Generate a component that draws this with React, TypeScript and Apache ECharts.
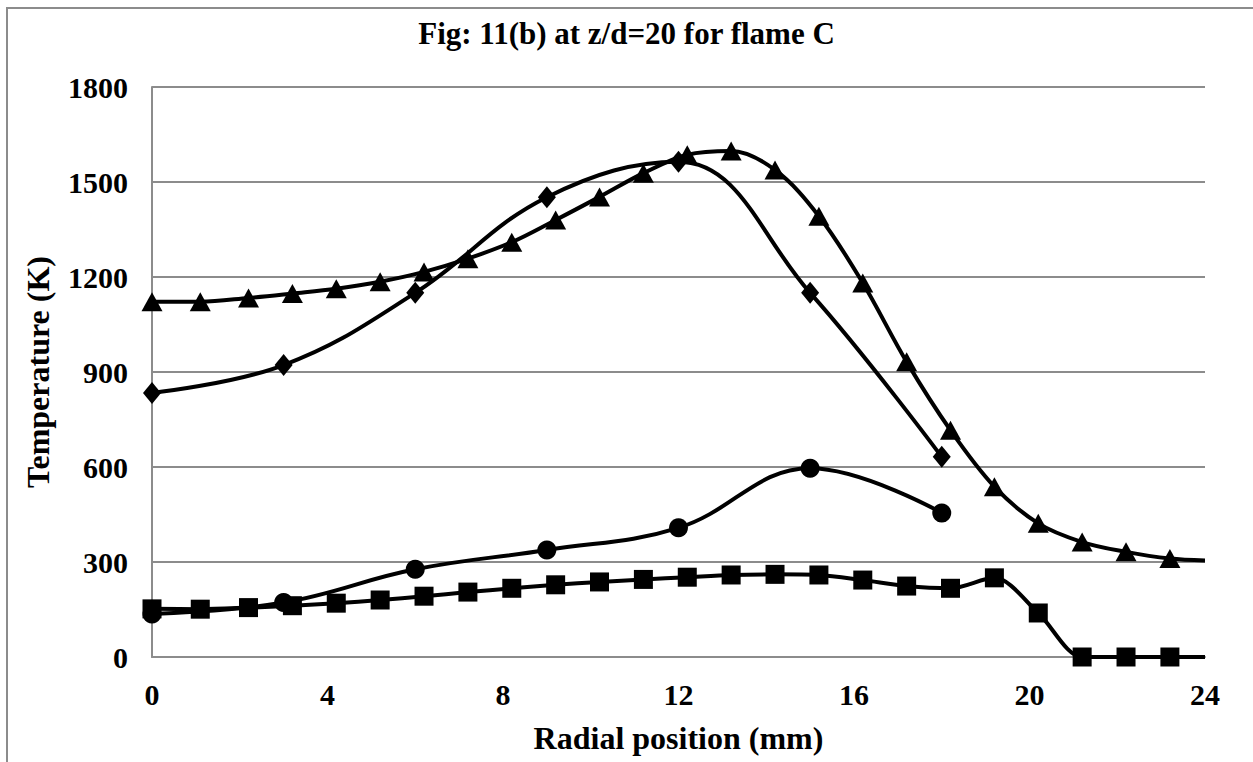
import React, { useEffect, useRef } from "react";
import * as echarts from "echarts";

const titleText = "Fig: 11(b) at z/d=20 for flame C";
const xAxisName = "Radial position (mm)";
const yAxisName = "Temperature (K)";

// Series with 3 mm spacing
const coarseX = [0, 3, 6, 9, 12, 15, 18];
const diamondY = [834, 922, 1150, 1452, 1564, 1150, 632];
const circleY = [136, 172, 277, 338, 408, 596, 455];

// Series with ~1 mm spacing
const fineX = [0, 1.1, 2.2, 3.2, 4.2, 5.2, 6.2, 7.2, 8.2, 9.2, 10.2, 11.2, 12.2, 13.2, 14.2, 15.2, 16.2, 17.2, 18.2, 19.2, 20.2, 21.2, 22.2, 23.2, 24];
const triangleY = [1122, 1122, 1134, 1148, 1163, 1185, 1216, 1258, 1310, 1380, 1453, 1528, 1586, 1598, 1538, 1392, 1181, 932, 716, 538, 422, 363, 332, 311, 305];
const squareY = [152, 151, 156, 162, 170, 180, 192, 205, 217, 228, 237, 245, 252, 259, 261, 259, 243, 224, 217, 250, 139, 0, 0, 0, 0];
// last fine point (x=24) is the end of the drawn line, without a marker
const fineMarkerShown = fineX.map((x) => x < 24);

const font = "'Liberation Serif', 'Times New Roman', serif";

export default function App() {
  const ref = useRef<HTMLDivElement>(null);
  useEffect(() => {
    if (!ref.current) return;
    const chart = echarts.init(ref.current, null, { renderer: "svg" });
    const mk = (xs: number[], ys: number[], shown?: boolean[]) =>
      xs.map((x, i) =>
        shown && !shown[i] ? { value: [x, ys[i]], symbol: "none" } : { value: [x, ys[i]] }
      );
    const lineStyle = { color: "#000", width: 4 };
    const itemStyle = { color: "#000" };
    chart.setOption({
      animation: false,
      backgroundColor: "#fff",
      title: {
        text: titleText,
        left: "center",
        top: 13,
        textStyle: { fontFamily: font, fontWeight: "bold", fontSize: 31, color: "#000" },
      },
      graphic: [
        {
          type: "rect",
          shape: { x: 7, y: 8, width: 1400, height: 900 },
          style: { fill: "none", stroke: "#8c8c8c", lineWidth: 2 },
          silent: true,
        },
      ],
      grid: { left: 152, right: 48, top: 87, bottom: 105 },
      xAxis: {
        type: "value",
        min: 0,
        max: 24,
        interval: 4,
        name: xAxisName,
        nameLocation: "middle",
        nameGap: 65,
        nameTextStyle: { fontFamily: font, fontWeight: "bold", fontSize: 32, color: "#000" },
        axisLine: { show: true, lineStyle: { color: "#8c8c8c", width: 2 } },
        axisTick: { show: false },
        splitLine: { show: false },
        axisLabel: { fontFamily: font, fontWeight: "bold", fontSize: 30, color: "#000", margin: 22 },
      },
      yAxis: {
        type: "value",
        min: 0,
        max: 1800,
        interval: 300,
        name: yAxisName,
        nameLocation: "middle",
        nameGap: 98,
        nameTextStyle: { fontFamily: font, fontWeight: "bold", fontSize: 32, color: "#000" },
        axisLine: { show: true, lineStyle: { color: "#8c8c8c", width: 2 } },
        axisTick: { show: false },
        splitLine: { show: true, lineStyle: { color: "#8c8c8c", width: 2 } },
        axisLabel: {
          fontFamily: font,
          fontWeight: "bold",
          fontSize: 30,
          color: "#000",
          margin: 24,
          formatter: (v: number) => String(v),
        },
      },
      series: [
        {
          type: "line",
          data: mk(fineX, squareY, fineMarkerShown),
          smooth: 0.3,
          symbol: "rect",
          symbolSize: 19,
          lineStyle,
          itemStyle,
          z: 2,
        },
        {
          type: "line",
          data: mk(coarseX, circleY),
          smooth: 0.4,
          symbol: "circle",
          symbolSize: 19,
          lineStyle,
          itemStyle,
          z: 3,
        },
        {
          type: "line",
          data: mk(fineX, triangleY, fineMarkerShown),
          smooth: 0.35,
          symbol: "triangle",
          symbolSize: [21, 19],
          lineStyle,
          itemStyle,
          z: 4,
        },
        {
          type: "line",
          data: mk(coarseX, diamondY),
          smooth: 0.4,
          symbol: "diamond",
          symbolSize: [18, 22],
          lineStyle,
          itemStyle,
          z: 5,
        },
      ],
    });
    return () => chart.dispose();
  }, []);
  return (
    <div
      ref={ref}
      style={{ position: "absolute", left: 0, top: 0, width: 1253, height: 762 }}
    />
  );
}
